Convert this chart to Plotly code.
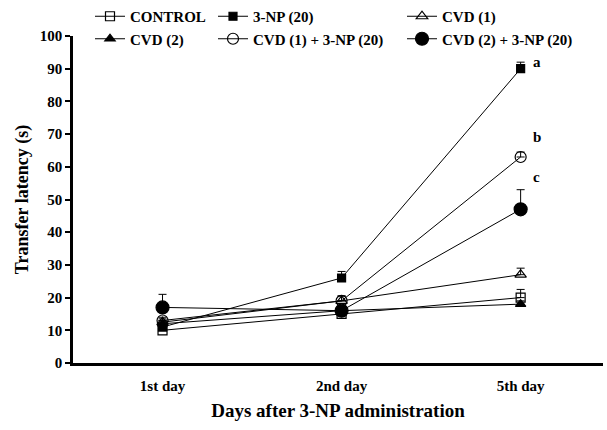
import plotly.graph_objects as go

days = ["1st day", "2nd day", "5th day"]
xpos = [0, 1, 2]

series_names = ["CONTROL", "3-NP (20)", "CVD (1)", "CVD (2)", "CVD (1) + 3-NP (20)", "CVD (2) + 3-NP (20)"]
control = [10, 15, 20]
np20 = [11, 26, 90]
cvd1 = [12.5, 19, 27]
cvd2 = [12, 16, 18]
cvd1_np = [13, 19, 63]
cvd2_np = [17, 16, 47]

control_err = [1, 1, 2.5]
np20_err = [1, 2, 2]
cvd1_err = [1, 1.5, 2]
cvd2_err = [1, 1, 1]
cvd1_np_err = [1, 1.5, 1.5]
cvd2_np_err = [4, 1, 6]

letters = ["a", "b", "c"]
letter_y = [92, 69, 57]

symbols = ["square-open", "square", "triangle-up-open", "triangle-up", "circle-open", "circle"]
sizes = [9, 8, 10, 9, 11, 13]
legend_ids = ["legend", "legend2", "legend3", "legend", "legend2", "legend3"]

values = [control, np20, cvd1, cvd2, cvd1_np, cvd2_np]
errs = [control_err, np20_err, cvd1_err, cvd2_err, cvd1_np_err, cvd2_np_err]

FONT = "Liberation Serif, Times New Roman, serif"

fig = go.Figure()
for name, v, e, sym, sz, lg in zip(series_names, values, errs, symbols, sizes, legend_ids):
    fig.add_trace(go.Scatter(
        x=xpos, y=v, name="<b>%s</b>" % name, mode="lines+markers",
        line=dict(color="black", width=1),
        marker=dict(symbol=sym, size=sz, color="black",
                    line=dict(color="black", width=1.2)),
        error_y=dict(type="data", array=e, arrayminus=[0, 0, 0],
                     color="black", thickness=1, width=4),
        legend=lg,
    ))

for t, yv in zip(letters, letter_y):
    fig.add_annotation(x=2, y=yv, text="<b>%s</b>" % t, showarrow=False,
                       xanchor="left", xshift=10,
                       font=dict(family=FONT, size=15, color="black"))

PL, PR, PT, PB = 73, 603, 36, 363
def px_x(v):
    return (v - PL) / (PR - PL)
def px_y(v):
    return (PB - v) / (PB - PT)

legend_common = dict(orientation="v", yanchor="top", xanchor="left", bgcolor="rgba(0,0,0,0)",
                     font=dict(family=FONT, size=15, color="black"),
                     itemwidth=30, tracegroupgap=0)

fig.update_layout(
    width=607, height=430,
    margin=dict(l=PL, r=607 - PR, t=PT, b=430 - PB, autoexpand=False),
    paper_bgcolor="white", plot_bgcolor="white",
    font=dict(family=FONT, color="black"),
    legend=dict(x=px_x(90), y=px_y(0), **legend_common),
    legend2=dict(x=px_x(213), y=px_y(0), **legend_common),
    legend3=dict(x=px_x(402), y=px_y(0), **legend_common),
    xaxis=dict(range=[-0.5, 2.46], tickvals=xpos, ticktext=["<b>%s</b>" % d for d in days],
               showline=True, linecolor="black", linewidth=2.5, ticks="",
               showgrid=False, zeroline=False, ticklabelstandoff=7,
               tickfont=dict(family=FONT, size=15, color="black"),
               title=dict(text="<b>Days after 3-NP administration</b>",
                          font=dict(family=FONT, size=19, color="black"), standoff=11)),
    yaxis=dict(range=[0, 100], dtick=10, showline=True, linecolor="black", linewidth=2.5,
               ticks="outside", ticklen=5, tickwidth=2, tickcolor="black",
               showgrid=False, zeroline=False,
               tickfont=dict(family=FONT, size=15, color="black"),
               tickprefix="<b>", ticksuffix="</b>",
               title=dict(text="<b>Transfer latency (s)</b>",
                          font=dict(family=FONT, size=18, color="black"), standoff=7)),
)

fig.write_html("out.html", config={"displayModeBar": False})
with open("out.html", "r", encoding="utf-8") as f:
    html = f.read()
html = html.replace("<head>", "<head><style>html,body{margin:0;padding:0;}</style>", 1)
with open("out.html", "w", encoding="utf-8") as f:
    f.write(html)
